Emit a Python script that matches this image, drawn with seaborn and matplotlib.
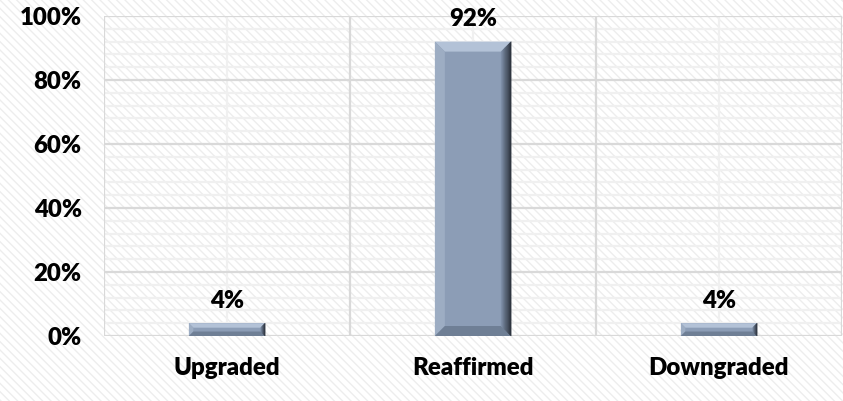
import numpy as np
import pandas as pd
import matplotlib
matplotlib.use("Agg")
import matplotlib.pyplot as plt
from matplotlib.patches import Polygon, Rectangle
from matplotlib.ticker import MultipleLocator, FuncFormatter
import seaborn as sns

categories = ["Upgraded", "Reaffirmed", "Downgraded"]
shares = [4, 92, 4]
y_ticks = [0, 20, 40, 60, 80, 100]

sns.set_theme(style="white")
plt.rcParams["font.family"] = ["Lato", "DejaVu Sans"]
plt.rcParams["hatch.linewidth"] = 1.0

FS = 17.3
WEIGHT = "heavy"

df = pd.DataFrame({"category": categories, "share": shares})

fig = plt.figure(figsize=(8.43, 4.01), dpi=100)
fig.patch.set_facecolor("white")
# light diagonal pattern behind the whole chart
bg = Rectangle((0, 0), 1, 1, transform=fig.transFigure, facecolor="white",
               edgecolor="#ededed", hatch="\\\\\\\\", linewidth=0, zorder=-10)
fig.patches.append(bg)

ax = fig.add_axes([104 / 843, 1 - 336 / 401, 738 / 843, 320 / 401])
ax.set_facecolor("none")

face = "#8c9db6"
sns.barplot(data=df, x="category", y="share", color=face, width=0.31,
            saturation=1, edgecolor="none", linewidth=0, ax=ax, zorder=3)

ax.set_ylim(0, 100)
ax.set_xlim(-0.5, len(categories) - 0.5)

# grid: major every 20%, minor every 4%; verticals at bounds and centres
ax.yaxis.set_major_locator(MultipleLocator(20))
for yv in np.arange(4, 100, 4):
    if yv % 20:
        ax.axhline(yv, color="#f0f0f0", lw=1.6, zorder=1)
for yv in y_ticks:
    ax.axhline(yv, color="#d9d9d9", lw=1.6, zorder=1.5)
for i in range(len(categories)):
    ax.axvline(i, color="#f0f0f0", lw=1.6, zorder=1)
for xv in np.arange(-0.5, len(categories), 1.0):
    ax.axvline(xv, color="#d9d9d9", lw=1.6, zorder=1.5)

for s in ax.spines.values():
    s.set_visible(False)

ax.yaxis.set_major_formatter(FuncFormatter(lambda v, p: f"{v:.0f}%"))
ax.tick_params(axis="y", which="both", length=0, pad=16, labelsize=FS)
ax.tick_params(axis="x", length=0, pad=15, labelsize=FS)
for lab in ax.get_yticklabels() + ax.get_xticklabels():
    lab.set_fontweight(WEIGHT)
    lab.set_color("black")
ax.set_xlabel("")
ax.set_ylabel("")

# bevelled look on each bar
fig.canvas.draw()
ax_w_px = ax.get_window_extent().width
ax_h_px = ax.get_window_extent().height
bev_px = 10
for p, val in zip(ax.patches, shares):
    x0 = p.get_x()
    w = p.get_width()
    x1 = x0 + w
    y0, y1 = 0, p.get_height()
    dx = bev_px * (len(categories)) / ax_w_px
    dy = bev_px * 100 / ax_h_px
    h_px = y1 / 100 * ax_h_px
    if h_px < 2.2 * bev_px:
        dy = (h_px * 0.35) * 100 / ax_h_px
        dx = min(dx, dy * ax_h_px / 100 * len(categories) / ax_w_px)
    ix0, ix1, iy0, iy1 = x0 + dx, x1 - dx, y0 + dy, y1 - dy
    top = Polygon([(x0, y1), (x1, y1), (ix1, iy1), (ix0, iy1)], closed=True,
                  facecolor="#b3c2d7", edgecolor="none", zorder=4)
    left = Polygon([(x0, y0), (x0, y1), (ix0, iy1), (ix0, iy0)], closed=True,
                   facecolor="#9dadc3", edgecolor="none", zorder=4)
    bottom = Polygon([(x0, y0), (x1, y0), (ix1, iy0), (ix0, iy0)], closed=True,
                     facecolor="#6f7f95", edgecolor="none", zorder=4)
    ax.add_patch(top)
    ax.add_patch(left)
    ax.add_patch(bottom)
    # right edge shading, darkening toward the outside
    steps = 8
    cols = sns.blend_palette(["#7d8ea6", "#2e3540"], steps)
    for k in range(steps):
        a = ix1 + dx * k / steps
        b = ix1 + dx * (k + 1) / steps
        fa = k / steps
        fb = (k + 1) / steps
        poly = Polygon([(a, iy0 - dy * fa), (a, iy1 + dy * fa),
                        (b, iy1 + dy * fb), (b, iy0 - dy * fb)], closed=True,
                       facecolor=cols[k], edgecolor=cols[k], lw=0.3, zorder=4)
        ax.add_patch(poly)
    ax.annotate(f"{val}%", (x0 + w / 2, y1), xytext=(0, 8),
                textcoords="offset points", ha="center", va="bottom",
                fontsize=FS, fontweight=WEIGHT, color="black", zorder=5,
                annotation_clip=False)

fig.savefig("out.png", dpi=100, facecolor="white")
